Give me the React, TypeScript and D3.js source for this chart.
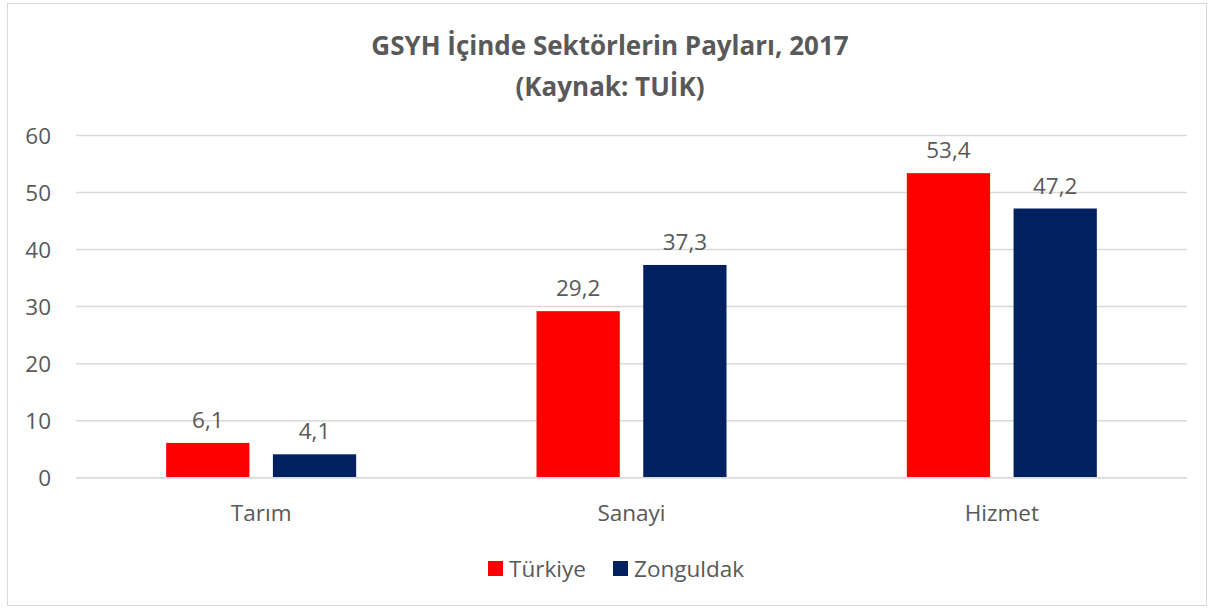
import React, { useRef, useEffect } from 'react';
import * as d3 from 'd3';

const categories = ['Tarım', 'Sanayi', 'Hizmet'];
const seriesNames = ['Türkiye', 'Zonguldak'];
const turkiye = [6.1, 29.2, 53.4];
const zonguldak = [4.1, 37.3, 47.2];
const yTicks = [0, 10, 20, 30, 40, 50, 60];
const colors = ['#ff0000', '#002060'];

const width = 1213;
const height = 608;
const font = '"Open Sans", sans-serif';
const textColor = '#595959';
const fs = 22.5;

const App = () => {
  const svgRef = useRef<SVGSVGElement>(null);

  useEffect(() => {
    const svg = d3.select(svgRef.current);
    svg.selectAll('*').remove();

    svg.append('rect')
      .attr('x', 7.5).attr('y', 3.5)
      .attr('width', 1199).attr('height', 602)
      .attr('fill', '#fff').attr('stroke', '#d9d9d9');

    const left = 76, right = 1187, top = 135.5, bottom = 477.7;

    const x = d3.scaleBand().domain(categories).range([left, right]);
    const x1 = d3.scaleBand().domain(seriesNames).range([0, 190]).paddingInner(0.22);
    const y = d3.scaleLinear().domain([0, 60]).range([bottom, top]);

    // title
    const title = svg.append('text')
      .attr('text-anchor', 'middle')
      .attr('font-family', font).attr('font-weight', 'bold')
      .attr('font-size', 26).attr('fill', textColor);
    title.append('tspan').attr('x', 610).attr('y', 55).text('GSYH İçinde Sektörlerin Payları, 2017');
    title.append('tspan').attr('x', 610).attr('y', 96).text('(Kaynak: TUİK)');

    // grid
    svg.append('g').selectAll('line').data(yTicks).enter().append('line')
      .attr('x1', left).attr('x2', right)
      .attr('y1', d => y(d)).attr('y2', d => y(d))
      .attr('stroke', '#d9d9d9').attr('stroke-width', 1.5);

    svg.append('g').selectAll('text').data(yTicks).enter().append('text')
      .attr('x', 51).attr('y', d => y(d) + 8)
      .attr('text-anchor', 'end')
      .attr('font-family', font).attr('font-size', fs).attr('fill', textColor)
      .text(d => d);

    const data = categories.map((c, i) => ({ c, vals: [turkiye[i], zonguldak[i]] }));

    const groups = svg.append('g').selectAll('g').data(data).enter().append('g')
      .attr('transform', d => `translate(${(x(d.c) as number) + x.bandwidth() / 2 - 95},0)`);

    groups.selectAll('rect').data(d => d.vals.map((v, j) => ({ v, s: seriesNames[j], j })))
      .enter().append('rect')
      .attr('x', d => x1(d.s) as number)
      .attr('y', d => y(d.v))
      .attr('width', x1.bandwidth())
      .attr('height', d => bottom - y(d.v))
      .attr('fill', d => colors[d.j]);

    groups.selectAll('text').data(d => d.vals.map((v, j) => ({ v, s: seriesNames[j] })))
      .enter().append('text')
      .attr('x', d => (x1(d.s) as number) + x1.bandwidth() / 2)
      .attr('y', d => y(d.v) - 15)
      .attr('text-anchor', 'middle')
      .attr('font-family', font).attr('font-size', fs).attr('fill', textColor)
      .text(d => String(d.v).replace('.', ','));

    // baseline
    svg.append('line')
      .attr('x1', left).attr('x2', right).attr('y1', bottom).attr('y2', bottom)
      .attr('stroke', '#d9d9d9').attr('stroke-width', 1.5);

    svg.append('g').selectAll('text').data(categories).enter().append('text')
      .attr('x', d => (x(d) as number) + x.bandwidth() / 2)
      .attr('y', 521)
      .attr('text-anchor', 'middle')
      .attr('font-family', font).attr('font-size', fs).attr('fill', textColor)
      .text(d => d);

    // legend
    const legendX = [488, 613];
    const lg = svg.append('g').selectAll('g').data(seriesNames).enter().append('g')
      .attr('transform', (d, i) => `translate(${legendX[i]},561)`);
    lg.append('rect').attr('width', 15).attr('height', 15).attr('fill', (d, i) => colors[i]);
    lg.append('text').attr('x', 21).attr('y', 16)
      .attr('font-family', font).attr('font-size', fs).attr('fill', textColor)
      .text(d => d);
  }, []);

  return <svg ref={svgRef} width={width} height={height} style={{ position: 'absolute', left: 0, top: 0 }}></svg>;
};

export default App;
